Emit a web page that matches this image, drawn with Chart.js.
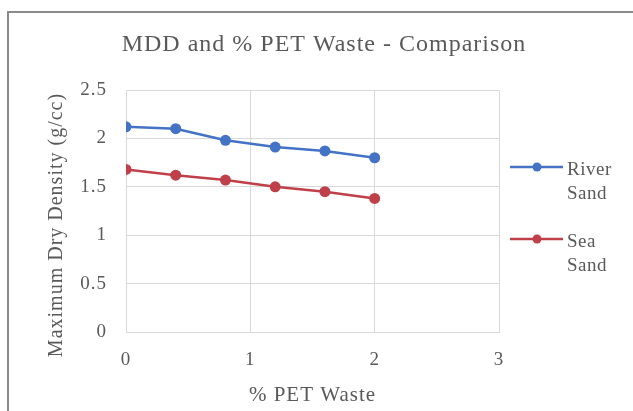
<!DOCTYPE html>
<html>
<head>
<meta charset="utf-8">
<script src="https://cdn.jsdelivr.net/npm/chart.js@4"></script>
<style>
  html, body { margin: 0; padding: 0; background: #fff; }
  #wrap { width: 633px; height: 411px; }
</style>
</head>
<body>
<div id="wrap"><canvas id="mddChart" width="633" height="411"></canvas></div>
<script>
const pctPet = [0, 0.4, 0.8, 1.2, 1.6, 2.0];
const riverSand = [2.12, 2.10, 1.98, 1.91, 1.87, 1.80];
const seaSand = [1.68, 1.62, 1.57, 1.50, 1.45, 1.38];
const seriesNames = [["River", "Sand"], ["Sea", "Sand"]];
const seriesColors = ["#4472C4", "#C0404A"];
const chartTitle = "MDD and % PET Waste - Comparison";
const yTitle = "Maximum Dry Density (g/cc)";

const serif = "'Liberation Serif', 'Times New Roman', serif";
const grey = "#595959";
const gridGrey = "#D9D9D9";

// left/top frame of the picture
const framePlugin = {
    id: "frame",
    beforeDraw(chart) {
        const ctx = chart.ctx;
        ctx.save();
        ctx.strokeStyle = "#8a8a8a";
        ctx.lineWidth = 2;
        ctx.beginPath();
        ctx.moveTo(8, 411);
        ctx.lineTo(8, 12);
        ctx.lineTo(633, 12);
        ctx.stroke();
        ctx.restore();
        ctx.letterSpacing = "1px";
    }
};

// chart title and y title, placed like the Excel original
const titlesPlugin = {
    id: "titles",
    afterDraw(chart) {
        const ctx = chart.ctx;
        ctx.save();
        ctx.letterSpacing = "1px";
        ctx.fillStyle = grey;
        ctx.textAlign = "center";
        ctx.textBaseline = "middle";
        ctx.font = "24px " + serif;
        ctx.fillText(chartTitle, 324, 45);
        ctx.translate(57, 225);
        ctx.rotate(-Math.PI / 2);
        ctx.font = "20px " + serif;
        ctx.fillText(yTitle, 0, 0);
        ctx.restore();
    }
};

// legend drawn at the right, two lines per entry
const sideLegend = {
    id: "sideLegend",
    afterDraw(chart) {
        const ctx = chart.ctx;
        const x0 = chart.chartArea.right + 11;
        const tops = [167, 239];
        ctx.save();
        ctx.letterSpacing = "0.5px";
        chart.data.datasets.forEach((ds, i) => {
            const y = tops[i];
            ctx.strokeStyle = ds.borderColor;
            ctx.lineWidth = 2.5;
            ctx.beginPath();
            ctx.moveTo(x0, y);
            ctx.lineTo(x0 + 53, y);
            ctx.stroke();
            ctx.fillStyle = ds.backgroundColor;
            ctx.beginPath();
            ctx.arc(x0 + 27, y, 4.5, 0, Math.PI * 2);
            ctx.fill();
            ctx.fillStyle = grey;
            ctx.font = "19px " + serif;
            ctx.textBaseline = "middle";
            ctx.textAlign = "left";
            seriesNames[i].forEach((line, j) => {
                ctx.fillText(line, x0 + 57, y + 3 + j * 24);
            });
        });
        ctx.restore();
    }
};

function toPoints(ys) {
    return pctPet.map((x, i) => ({ x: x, y: ys[i] }));
}

const ctx = document.getElementById("mddChart").getContext("2d");
new Chart(ctx, {
    type: "line",
    data: {
        datasets: [riverSand, seaSand].map((ys, i) => ({
            label: seriesNames[i].join(" "),
            data: toPoints(ys),
            borderColor: seriesColors[i],
            backgroundColor: seriesColors[i],
            borderWidth: 2.5,
            pointRadius: 5.5,
            pointHoverRadius: 5.5,
            pointBorderWidth: 0,
            tension: 0
        }))
    },
    options: {
        responsive: false,
        animation: false,
        layout: { padding: { left: 0, right: 134, top: 90, bottom: 0 } },
        plugins: {
            legend: { display: false },
            tooltip: { enabled: false },
            title: { display: false }
        },
        scales: {
            x: {
                type: "linear",
                min: 0,
                max: 3,
                ticks: {
                    stepSize: 1,
                    color: grey,
                    padding: 17,
                    font: { family: serif, size: 19 }
                },
                grid: { color: gridGrey, drawTicks: false },
                border: { color: gridGrey },
                title: {
                    display: true,
                    text: "% PET Waste",
                    color: grey,
                    font: { family: serif, size: 21 },
                    padding: { top: 0, bottom: 3 }
                },
                afterFit(scale) { scale.height = 79; }
            },
            y: {
                min: 0,
                max: 2.5,
                ticks: {
                    stepSize: 0.5,
                    color: grey,
                    padding: 19,
                    font: { family: serif, size: 19 },
                    callback: v => String(v)
                },
                grid: { color: gridGrey, drawTicks: false },
                border: { color: gridGrey },
                afterFit(scale) { scale.width = 126; }
            }
        }
    },
    plugins: [framePlugin, titlesPlugin, sideLegend]
});
</script>
</body>
</html>
